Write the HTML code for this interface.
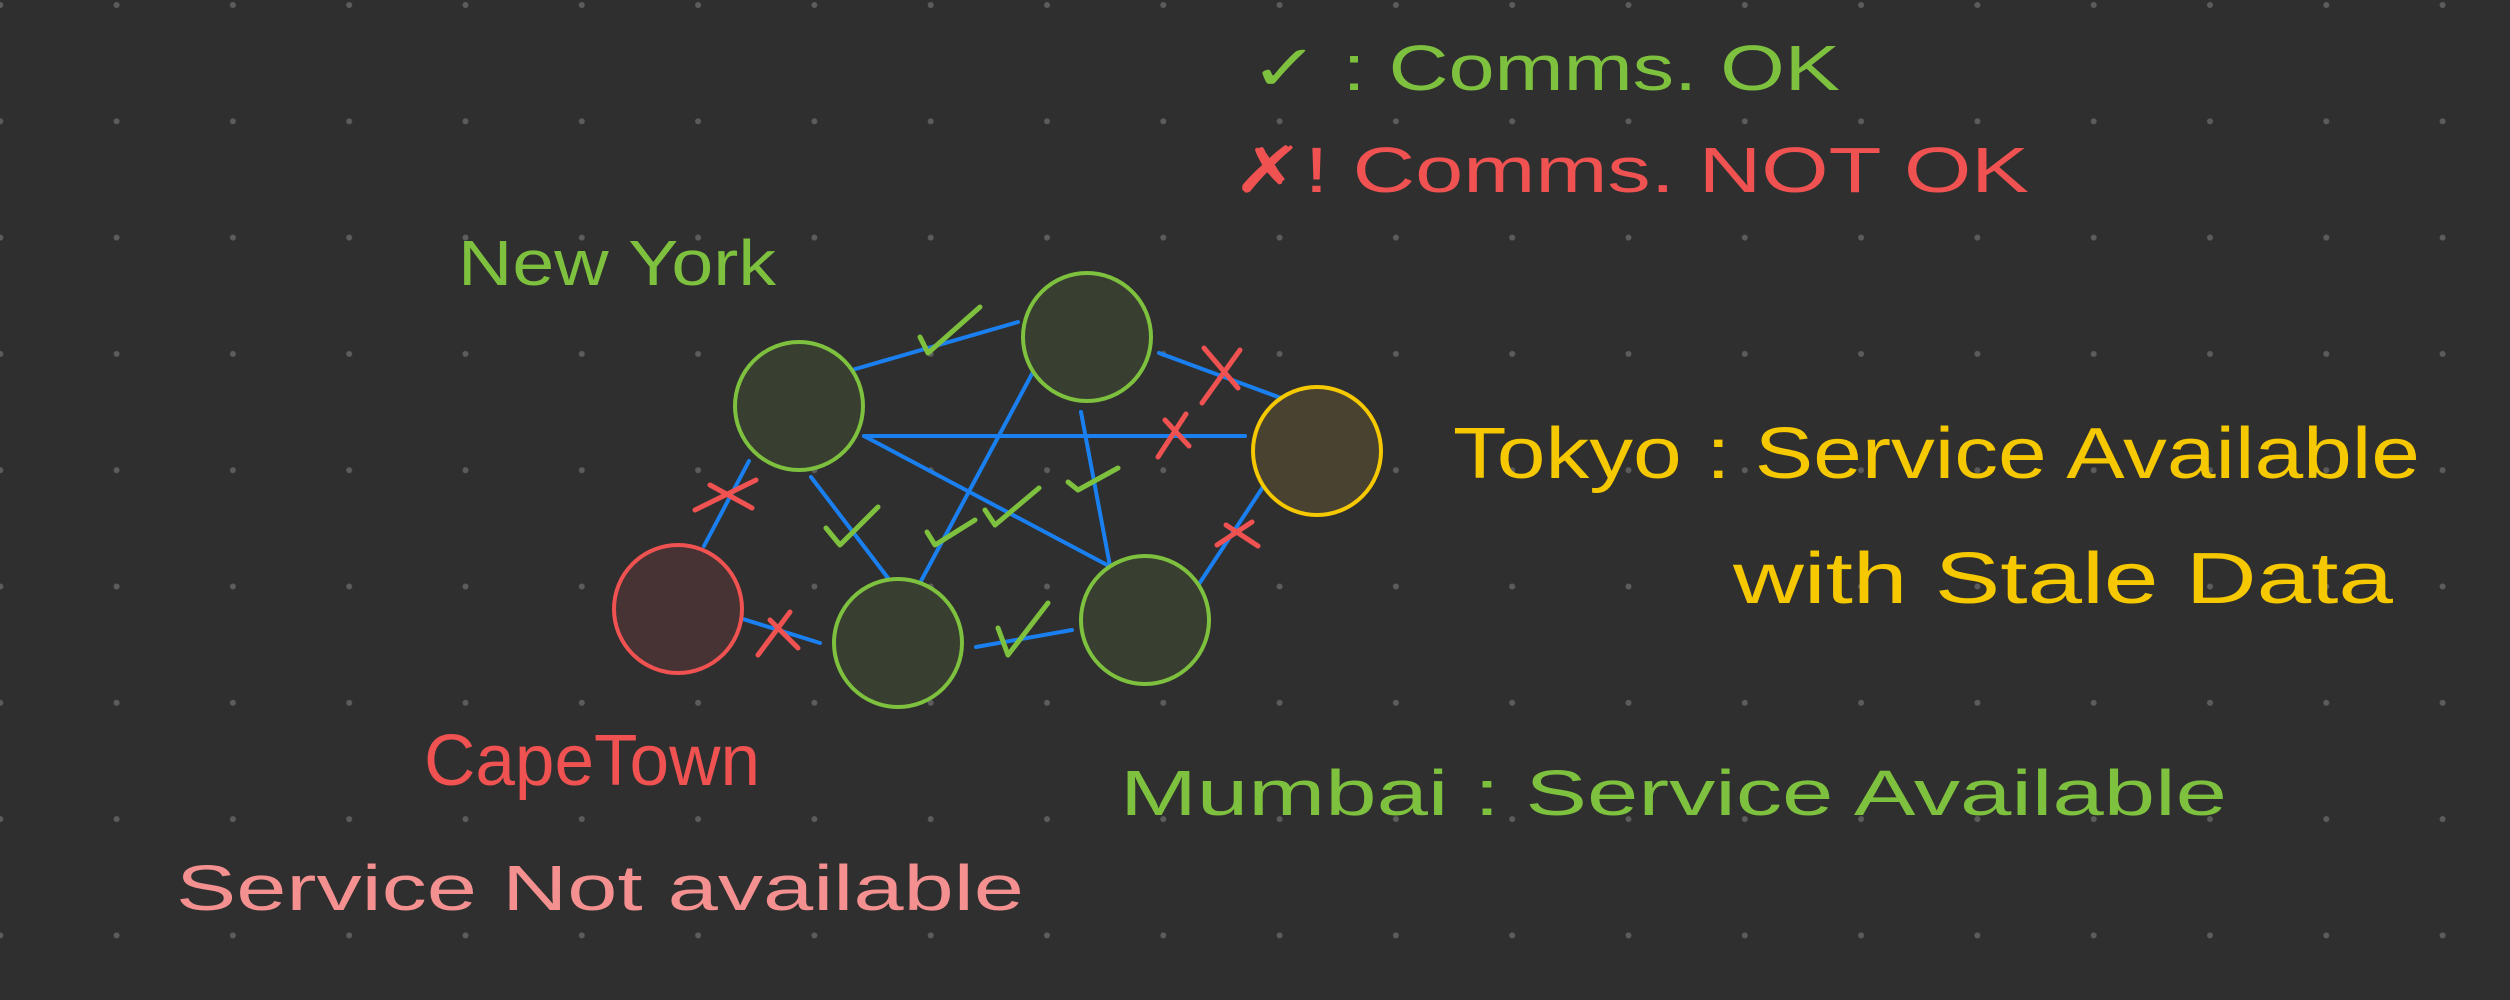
<!DOCTYPE html>
<html><head><meta charset="utf-8"><style>
html,body{margin:0;padding:0;background:#2f2f2f;}
svg{display:block}
text{font-family:"Liberation Sans",sans-serif;}
</style></head><body>
<svg width="2510" height="1000" viewBox="0 0 2510 1000" xmlns="http://www.w3.org/2000/svg">
<defs>
<pattern id="dots" x="0.3" y="5" width="116.3" height="116.3" patternUnits="userSpaceOnUse">
<circle cx="0" cy="0" r="3" fill="#5c5c5c"/><circle cx="116.3" cy="0" r="3" fill="#5c5c5c"/><circle cx="0" cy="116.3" r="3" fill="#5c5c5c"/><circle cx="116.3" cy="116.3" r="3" fill="#5c5c5c"/>
</pattern>
</defs>
<rect width="2510" height="1000" fill="#2f2f2f"/>
<rect width="2510" height="1000" fill="url(#dots)"/>

<g stroke="#1a7fef" stroke-width="4" stroke-linecap="round">
<line x1="852" y1="370" x2="1018" y2="322"/>
<line x1="1159" y1="353" x2="1281" y2="398"/>
<line x1="864" y1="436" x2="1245" y2="436"/>
<line x1="864" y1="436" x2="1109" y2="566"/>
<line x1="1033" y1="372" x2="921" y2="581"/>
<line x1="1081" y1="412" x2="1110" y2="566"/>
<line x1="811" y1="477" x2="888" y2="578"/>
<line x1="704" y1="546" x2="749" y2="461"/>
<line x1="743" y1="619" x2="820" y2="643"/>
<line x1="976" y1="647" x2="1072" y2="630"/>
<line x1="1199" y1="584" x2="1263" y2="487"/>
</g>

<g stroke-width="4">
<circle cx="799" cy="406" r="64" fill="#383f31" stroke="#7ec13e"/>
<circle cx="1087" cy="337" r="64" fill="#383f31" stroke="#7ec13e"/>
<circle cx="1317" cy="451" r="64" fill="#4a4230" stroke="#f5c800"/>
<circle cx="678" cy="609" r="64" fill="#473334" stroke="#f05252"/>
<circle cx="898" cy="643" r="64" fill="#383f31" stroke="#7ec13e"/>
<circle cx="1145" cy="620" r="64" fill="#383f31" stroke="#7ec13e"/>
</g>

<g stroke="#7ec13e" stroke-width="5" fill="none" stroke-linecap="round" stroke-linejoin="round">
<path d="M920 337 L928 353 L980 307"/>
<path d="M826 528 L840 545 L878 507"/>
<path d="M927 532 L935 545 L975 520"/>
<path d="M985 510 L995 525 L1039 488"/>
<path d="M1068 482 L1078 490 L1118 468"/>
<path d="M998 628 L1008 655 L1048 603"/>
</g>
<g stroke="#f05252" stroke-width="5" fill="none" stroke-linecap="round">
<path d="M1240 350 L1202 403 M1204 348 L1238 388"/>
<path d="M1186 414 L1158 457 M1165 420 L1189 446"/>
<path d="M695 510 L756 480 M710 485 L752 508"/>
<path d="M790 612 L758 655 M770 620 L798 648"/>
<path d="M1252 522 L1217 545 M1226 525 L1258 546"/>
</g>

<g font-size="64">
<text x="1250" y="90" fill="#7ec13e" textLength="590" lengthAdjust="spacingAndGlyphs">✓ : Comms. OK</text>
<text x="1232" y="192" fill="#f05252" textLength="797" lengthAdjust="spacingAndGlyphs">✗!  Comms. NOT OK</text>
<text x="458" y="285" fill="#7ec13e" textLength="318" lengthAdjust="spacingAndGlyphs">New York</text>
<text x="1453" y="478" fill="#f5c800" font-size="72" textLength="967" lengthAdjust="spacingAndGlyphs">Tokyo : Service Available</text>
<text x="1733" y="603" fill="#f5c800" font-size="72" textLength="660" lengthAdjust="spacingAndGlyphs">with Stale Data</text>
<text x="1120" y="815" fill="#7ec13e" textLength="1107" lengthAdjust="spacingAndGlyphs">Mumbai : Service Available</text>
<text x="424" y="785" fill="#f05252" font-size="72" textLength="336" lengthAdjust="spacingAndGlyphs">CapeTown</text>
<text x="176" y="910" fill="#f49090" textLength="848" lengthAdjust="spacingAndGlyphs">Service Not available</text>
</g>
</svg>
</body></html>
